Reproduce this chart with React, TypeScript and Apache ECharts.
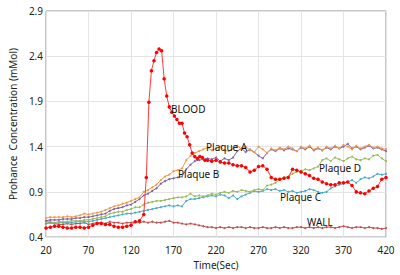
import React, { useEffect, useRef } from "react";
import * as echarts from "echarts";

const xTicks = [20, 70, 120, 170, 220, 270, 320, 370, 420];
const yTicks = [0.4, 0.9, 1.4, 1.9, 2.4, 2.9];

const plaqueTimes = [
  20, 25, 30, 35, 40, 45, 50, 55, 60, 65, 70, 75, 80, 85, 90, 95, 100, 105, 110, 115, 120,
  125, 130, 135, 140, 145, 150, 155, 160, 165, 170, 175, 180, 185, 190, 195, 200, 205, 210,
  215, 220, 225, 230, 235, 240, 245, 250, 255, 260, 265, 270, 275, 280, 285, 290, 295, 300,
  305, 310, 315, 320, 325, 330, 335, 340, 345, 350, 355, 360, 365, 370, 375, 380, 385, 390,
  395, 400, 405, 410, 415, 420,
];

const plaqueA = [
  0.61, 0.62, 0.62, 0.62, 0.62, 0.63, 0.62, 0.63, 0.64, 0.66, 0.65, 0.66, 0.67, 0.68, 0.70, 0.72, 0.74,
  0.75, 0.77, 0.78, 0.80, 0.82, 0.84, 0.90, 0.92, 0.95, 0.98, 1.03, 1.07, 1.09, 1.13, 1.14, 1.16, 1.25,
  1.30, 1.33, 1.35, 1.37, 1.39, 1.36, 1.38, 1.40, 1.36, 1.35, 1.38, 1.41, 1.37, 1.40, 1.36, 1.34, 1.40,
  1.37, 1.33, 1.38, 1.36, 1.39, 1.37, 1.40, 1.38, 1.35, 1.40, 1.38, 1.41, 1.37, 1.39, 1.36, 1.40, 1.38,
  1.41, 1.38, 1.42, 1.40, 1.37, 1.41, 1.38, 1.40, 1.42, 1.39, 1.40, 1.38, 1.37,
];

const plaqueB = [
  0.58, 0.59, 0.59, 0.59, 0.60, 0.60, 0.60, 0.61, 0.61, 0.62, 0.62, 0.63, 0.64, 0.65, 0.66, 0.69, 0.71,
  0.72, 0.73, 0.75, 0.76, 0.79, 0.82, 0.86, 0.88, 0.91, 0.94, 0.99, 1.02, 1.04, 1.05, 1.06, 1.07, 1.15,
  1.20, 1.24, 1.25, 1.26, 1.27, 1.26, 1.28, 1.24, 1.27, 1.25, 1.28, 1.35, 1.38, 1.34, 1.37, 1.34, 1.30,
  1.27, 1.33, 1.37, 1.35, 1.38, 1.36, 1.38, 1.37, 1.35, 1.39, 1.37, 1.40, 1.36, 1.38, 1.36, 1.39, 1.37,
  1.40, 1.38, 1.40, 1.43, 1.38, 1.40, 1.37, 1.39, 1.41, 1.38, 1.39, 1.37, 1.35,
];

const plaqueC = [
  0.55, 0.56, 0.55, 0.56, 0.56, 0.56, 0.56, 0.57, 0.57, 0.57, 0.57, 0.58, 0.59, 0.60, 0.61, 0.62, 0.63,
  0.64, 0.65, 0.66, 0.66, 0.67, 0.68, 0.69, 0.70, 0.71, 0.72, 0.73, 0.74, 0.75, 0.74, 0.75, 0.74, 0.80,
  0.82, 0.82, 0.83, 0.84, 0.85, 0.86, 0.85, 0.87, 0.86, 0.83, 0.86, 0.82, 0.85, 0.87, 0.89, 0.91, 0.90,
  0.91, 0.93, 0.92, 0.93, 0.91, 0.92, 0.90, 0.91, 0.89, 0.90, 0.91, 0.93, 0.92, 0.90, 0.89, 0.90, 0.94,
  0.96, 0.98, 0.99, 1.01, 1.03, 1.00, 1.04, 1.06, 1.05, 1.07, 1.10, 1.09, 1.10,
];

const plaqueD = [
  0.57, 0.57, 0.56, 0.57, 0.57, 0.57, 0.58, 0.58, 0.58, 0.59, 0.59, 0.60, 0.61, 0.62, 0.63, 0.66, 0.67,
  0.68, 0.68, 0.70, 0.71, 0.73, 0.73, 0.76, 0.78, 0.79, 0.80, 0.80, 0.81, 0.82, 0.83, 0.84, 0.84, 0.85,
  0.88, 0.85, 0.86, 0.85, 0.86, 0.88, 0.87, 0.89, 0.90, 0.89, 0.91, 0.90, 0.92, 0.91, 0.90, 0.92, 0.93,
  0.92, 0.97, 0.98, 1.00, 1.04, 1.06, 1.07, 1.10, 1.12, 1.13, 1.15, 1.14, 1.16, 1.18, 1.25, 1.27, 1.24,
  1.28, 1.26, 1.24, 1.27, 1.29, 1.26, 1.25, 1.27, 1.26, 1.30, 1.31, 1.27, 1.24,
];

const wall = [
  0.55, 0.56, 0.55, 0.54, 0.54, 0.55, 0.54, 0.55, 0.55, 0.56, 0.54, 0.55, 0.56, 0.56, 0.55, 0.57, 0.56,
  0.56, 0.55, 0.56, 0.56, 0.57, 0.56, 0.57, 0.56, 0.57, 0.56, 0.56, 0.57, 0.58, 0.56, 0.56, 0.55, 0.54,
  0.55, 0.54, 0.53, 0.52, 0.51, 0.51, 0.50, 0.51, 0.50, 0.51, 0.50, 0.51, 0.51, 0.50, 0.51, 0.50, 0.50,
  0.51, 0.50, 0.50, 0.51, 0.50, 0.51, 0.50, 0.50, 0.51, 0.51, 0.50, 0.51, 0.50, 0.51, 0.50, 0.51, 0.51,
  0.50, 0.51, 0.52, 0.51, 0.50, 0.51, 0.51, 0.50, 0.51, 0.50, 0.50, 0.49, 0.50,
];

const bloodTimes = [
  20, 25, 30, 35, 40, 45, 50, 55, 60, 65, 70, 75, 80, 85, 90, 95, 100, 105, 110, 115, 120, 125, 130, 135,
  138, 141, 144, 147, 150, 153, 156, 159, 162, 165, 168, 171, 174, 177, 180, 183, 186, 189, 192, 195, 198,
  201, 204, 207, 210, 215, 220, 225, 230, 235, 240, 245, 250, 255, 260, 265, 270, 275, 280, 285, 290, 295,
  300, 305, 310, 315, 320, 325, 330, 335, 340, 345, 350, 355, 360, 365, 370, 375, 380, 385, 390, 395, 400,
  405, 410, 415, 420,
];

const blood = [
  0.50, 0.51, 0.52, 0.52, 0.51, 0.50, 0.50, 0.51, 0.51, 0.50, 0.51, 0.53, 0.55, 0.55, 0.54, 0.54, 0.52,
  0.51, 0.51, 0.52, 0.53, 0.57, 0.58, 0.65,
  1.06, 1.89, 2.24, 2.35, 2.44, 2.48, 2.46, 2.15, 1.96, 1.84, 1.78, 1.74, 1.70, 1.66, 1.66, 1.55, 1.51,
  1.42, 1.33, 1.29, 1.27, 1.29, 1.28, 1.25,
  1.25, 1.24, 1.25, 1.23, 1.22, 1.22, 1.20, 1.19, 1.19, 1.17, 1.12, 1.14, 1.18, 1.19, 1.15, 1.06, 1.04,
  1.04, 1.05, 1.06, 1.15, 1.14, 1.12, 1.10, 1.08, 1.05, 1.04, 1.01, 0.99, 0.98, 0.98, 1.00, 1.00, 1.01,
  0.97, 0.90, 0.89, 0.88, 0.91, 0.94, 0.96, 1.04, 1.06,
];

const annotations = [
  { text: "BLOOD", x: 171, y: 111 },
  { text: "Plaque A", x: 206, y: 149 },
  { text: "Plaque B", x: 178, y: 176 },
  { text: "Plaque D", x: 319, y: 170 },
  { text: "Plaque C", x: 280, y: 199 },
  { text: "WALL", x: 307, y: 224 },
];

const FONT = "'Noto Sans', 'DejaVu Sans', sans-serif";

function pairs(times: number[], vals: number[]) {
  return times.map((t, i) => [t, vals[i]]);
}

export default function App() {
  const ref = useRef<HTMLDivElement>(null);
  useEffect(() => {
    document.body.style.margin = "0";
    if (!ref.current) return;
    const chart = echarts.init(ref.current, null, { renderer: "svg" });
    const small = (name: string, color: string, times: number[], vals: number[], z: number) => ({
      name,
      type: "line",
      data: pairs(times, vals),
      symbol: "circle",
      symbolSize: 2,
      showSymbol: true,
      z,
      lineStyle: { color, width: 1 },
      itemStyle: { color },
    });
    chart.setOption({
      animation: false,
      backgroundColor: "#ffffff",
      grid: {
        left: 39,
        right: 14,
        top: 11,
        bottom: 35,
        show: true,
        borderColor: "#8c8c8c",
        borderWidth: 1,
      },
      xAxis: {
        type: "value",
        min: 20,
        max: 420,
        interval: 50,
        name: "Time(Sec)",
        nameLocation: "middle",
        nameGap: 20,
        nameTextStyle: { fontFamily: FONT, fontSize: 10, color: "#222" },
        axisLine: { show: false },
        axisTick: { show: false },
        axisLabel: { fontFamily: FONT, fontSize: 10, color: "#222", margin: 8 },
        splitLine: { show: true, lineStyle: { color: "#e4e4e4", width: 1 } },
      },
      yAxis: {
        type: "value",
        min: 0.4,
        max: 2.9,
        interval: 0.5,
        name: "Prohance  Concentration (mMol)",
        nameLocation: "middle",
        nameGap: 25,
        nameTextStyle: { fontFamily: FONT, fontSize: 10, color: "#222" },
        axisLine: { show: false },
        axisTick: { show: false },
        axisLabel: {
          fontFamily: FONT,
          fontSize: 10,
          color: "#222",
          margin: 3,
          formatter: (v: number) => v.toFixed(1),
        },
        splitLine: { show: true, lineStyle: { color: "#e4e4e4", width: 1 } },
      },
      series: [
        small("WALL", "#c0504d", plaqueTimes, wall, 2),
        small("Plaque C", "#4bacc6", plaqueTimes, plaqueC, 3),
        small("Plaque D", "#9bbb59", plaqueTimes, plaqueD, 4),
        small("Plaque B", "#8064a2", plaqueTimes, plaqueB, 5),
        small("Plaque A", "#f79646", plaqueTimes, plaqueA, 6),
        {
          name: "BLOOD",
          type: "line",
          data: pairs(bloodTimes, blood),
          symbol: "circle",
          symbolSize: 3.5,
          showSymbol: true,
          z: 7,
          lineStyle: { color: "#ff3b3b", width: 1 },
          itemStyle: { color: "#ff0000" },
        },
      ],
      graphic: annotations.map((a) => ({
        type: "text",
        left: a.x,
        top: a.y - 7,
        z: 100,
        style: { text: a.text, fontFamily: FONT, fontSize: 10, fill: "#111" },
      })),
    });
    return () => chart.dispose();
  }, []);
  return <div ref={ref} style={{ width: 400, height: 275 }} />;
}
